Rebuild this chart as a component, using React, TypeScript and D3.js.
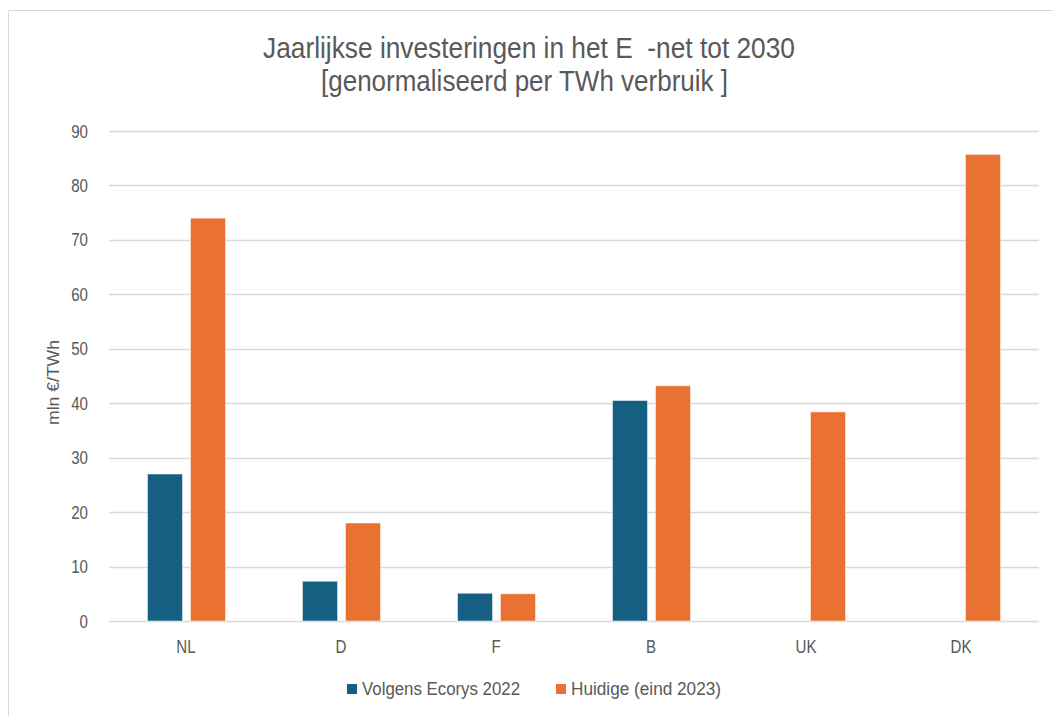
import React from "react";
import * as d3 from "d3";

const categories = ["NL", "D", "F", "B", "UK", "DK"];
const seriesNames = ["Volgens Ecorys 2022", "Huidige (eind 2023)"];
const ecorys2022: (number | null)[] = [27.0, 7.3, 5.1, 40.5, null, null];
const huidige2023: (number | null)[] = [74.0, 18.0, 5.0, 43.2, 38.4, 85.7];
const yTicks = [0, 10, 20, 30, 40, 50, 60, 70, 80, 90];
const colors = ["#156082", "#E97132"];

const FONT = "'Liberation Sans', Arial, sans-serif";
const TEXT = "#595959";

function NText(props: { x: number; y: number; size: number; anchor?: string; sx?: number; children: React.ReactNode }) {
  const { x, y, size, anchor = "start", sx = 0.84, children } = props;
  return (
    <text transform={`translate(${x},${y}) scale(${sx},1)`} textAnchor={anchor as any} fontSize={size} fill={TEXT}>
      {children}
    </text>
  );
}

export default function App() {
  const W = 1053, H = 716;
  const left = 109, right = 1039, top = 131, bottom = 621;
  const x = d3.scaleBand<string>().domain(categories).range([left, right]).paddingInner(0).paddingOuter(0);
  const sub = d3.scaleBand<string>().domain(seriesNames).range([38.5, 116.5]).paddingInner(0.186).paddingOuter(0);
  const y = d3.scaleLinear().domain([0, 90]).range([bottom, top]);
  const series = [ecorys2022, huidige2023];

  return (
    <svg width={W} height={H} style={{ position: "absolute", left: 0, top: 0, background: "#fff" }} fontFamily={FONT}>
      <rect x={0} y={0} width={W} height={H} fill="#fff" />
      <line x1={8.5} y1={10.5} x2={W} y2={10.5} stroke="#d9d9d9" />
      <line x1={8.5} y1={10.5} x2={8.5} y2={H} stroke="#d9d9d9" />
      <text x={263} y={58} fontSize={30} fill={TEXT} textLength={532} lengthAdjust="spacingAndGlyphs" style={{ whiteSpace: "pre" }}>
        {"Jaarlijkse investeringen in het E  -net tot 2030"}
      </text>
      <text x={321} y={91} fontSize={30} fill={TEXT} textLength={407} lengthAdjust="spacingAndGlyphs" style={{ whiteSpace: "pre" }}>
        {"[genormaliseerd per TWh verbruik ]"}
      </text>
      {yTicks.map((t) => (
        <g key={t}>
          <line x1={left} x2={right} y1={Math.round(y(t)) + 0.5} y2={Math.round(y(t)) + 0.5} stroke="#d9d9d9" strokeWidth={1.3} />
          <NText x={88} y={y(t) + 6.5} size={18} anchor="end">{t}</NText>
        </g>
      ))}
      <text transform={`translate(59,${425}) rotate(-90)`} fontSize={16} fill={TEXT} textLength={85} lengthAdjust="spacingAndGlyphs">mln €/TWh</text>
      {categories.map((c, i) => (
        <g key={c}>
          {series.map((s, j) => {
            const v = s[i];
            if (v == null) return null;
            const bx = (x(c) as number) + (sub(seriesNames[j]) as number);
            return (
              <rect key={j} x={bx} y={y(v)} width={sub.bandwidth()} height={y(0) - y(v)} fill={colors[j]} stroke="#ffffff" strokeOpacity={0.6} strokeWidth={0.8} />
            );
          })}
          <NText x={(x(c) as number) + x.bandwidth() / 2 - 0.5} y={653} size={18} anchor="middle">{c}</NText>
        </g>
      ))}
      {seriesNames.map((n, j) => {
        const lx = [347, 556][j];
        const tl = [158, 150][j];
        return (
          <g key={n}>
            <rect x={lx} y={684} width={10} height={10} fill={colors[j]} />
            <text x={lx + 15} y={695} fontSize={18} fill={TEXT} textLength={tl} lengthAdjust="spacingAndGlyphs">{n}</text>
          </g>
        );
      })}
    </svg>
  );
}
